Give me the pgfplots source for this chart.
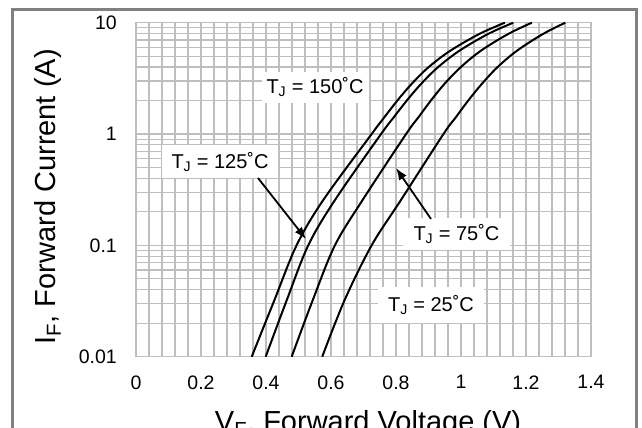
\documentclass[border=0pt]{standalone}
\usepackage{fontspec}
\setmainfont{Liberation Sans}
\usepackage{pgfplots}
\pgfplotsset{compat=1.18}
\usetikzlibrary{arrows.meta}
\definecolor{gridgray}{RGB}{190,190,190}
\definecolor{framegray}{RGB}{128,128,128}
\begin{document}
\begin{tikzpicture}
\useasboundingbox (0pt,0pt) rectangle (642pt,428pt);
\draw[framegray, line width=3pt] (12.5pt,-20pt) -- (12.5pt,418.5pt) -- (636.2pt,418.5pt) -- (636.2pt,-20pt);
\begin{axis}[
  at={(136pt,71.3pt)}, anchor=south west,
  scale only axis, width=455pt, height=334pt,
  xmin=0, xmax=1.4, ymode=log, ymin=0.01, ymax=10,
  xtick={0,0.2,0.4,0.6,0.8,1.0,1.2,1.4},
  xticklabels={0,0.2,0.4,0.6,0.8,1,1.2,1.4},
  minor x tick num=4,
  ytick={0.01,0.1,1,10},
  yticklabels={0.01,0.1,1,10},
  grid=both,
  grid style={gridgray, line width=1.2pt},
  major grid style={gridgray, line width=1.2pt},
  minor grid style={gridgray, line width=1.2pt},
  axis line style={gridgray, line width=1.2pt},
  major tick length=0pt, minor tick length=0pt,
  /pgf/number format/assume math mode=true,
  ticklabel style={font=\fontsize{19.5}{23}\selectfont, inner sep=0pt},
  xticklabel style={anchor=north, yshift=-18.5pt},
  yticklabel style={anchor=east, xshift=-19pt},
  xlabel={V\textsubscript{F}, Forward Voltage (V)},
  ylabel={I\textsubscript{F}, Forward Current (A)},
  label style={font=\fontsize{29}{34}\selectfont, inner sep=0pt},
  xlabel style={at={(axis description cs:0.51,-0.1596)}, anchor=north},
  ylabel style={at={(axis description cs:-0.1934,0.479)}, anchor=center},
  clip=false,
]
% label boxes
\node[fill=white, minimum width=107pt, minimum height=31pt, inner sep=0pt, font=\fontsize{20}{24}\selectfont] at (axis cs:0.5508,2.645) {T\textsubscript{J} = 150˚C};
\node[fill=white, minimum width=116pt, minimum height=33pt, inner sep=0pt, font=\fontsize{20}{24}\selectfont] at (axis cs:0.2585,0.561) {T\textsubscript{J} = 125˚C};
\node[fill=white, minimum width=107pt, minimum height=32pt, inner sep=0pt, font=\fontsize{20}{24}\selectfont] at (axis cs:0.986,0.1265) {T\textsubscript{J} = 75˚C};
\node[fill=white, minimum width=106pt, minimum height=36pt, inner sep=0pt, font=\fontsize{20}{24}\selectfont] at (axis cs:0.9077,0.0291) {T\textsubscript{J} = 25˚C};
% curves
\addplot[black, line width=2pt, smooth, tension=0.55] coordinates {
(0.356,0.01) (0.426,0.0323) (0.494,0.1) (0.576,0.255) (0.725,1) (0.764,1.413) (0.804,1.995) (0.848,2.818) (0.900,3.981) (0.968,5.623) (1.057,7.943) (1.135,10)};
\addplot[black, line width=2pt, smooth, tension=0.55] coordinates {
(0.399,0.01) (0.464,0.0323) (0.530,0.1) (0.612,0.255) (0.754,1) (0.793,1.413) (0.833,1.995) (0.877,2.818) (0.929,3.981) (0.996,5.623) (1.084,7.943) (1.161,10)};
\addplot[black, line width=2pt, smooth, tension=0.55] coordinates {
(0.479,0.01) (0.544,0.0323) (0.612,0.1) (0.697,0.255) (0.831,1) (0.869,1.413) (0.907,1.995) (0.949,2.818) (0.999,3.981) (1.062,5.623) (1.146,7.943) (1.218,10)};
\addplot[black, line width=2pt, smooth, tension=0.55] coordinates {
(0.573,0.01) (0.642,0.0323) (0.725,0.1) (0.815,0.255) (0.946,1) (0.984,1.413) (1.022,1.995) (1.064,2.818) (1.112,3.981) (1.173,5.623) (1.253,7.943) (1.321,10)};
% arrows
\draw[black, line width=1.8pt, -{Latex[length=12pt,width=9pt]}] (axis cs:0.3754,0.4027) -- (axis cs:0.523,0.114);
\draw[black, line width=1.8pt, -{Latex[length=12pt,width=9pt]}] (axis cs:0.9077,0.1726) -- (axis cs:0.8,0.4955);
\end{axis}
\end{tikzpicture}
\end{document}
